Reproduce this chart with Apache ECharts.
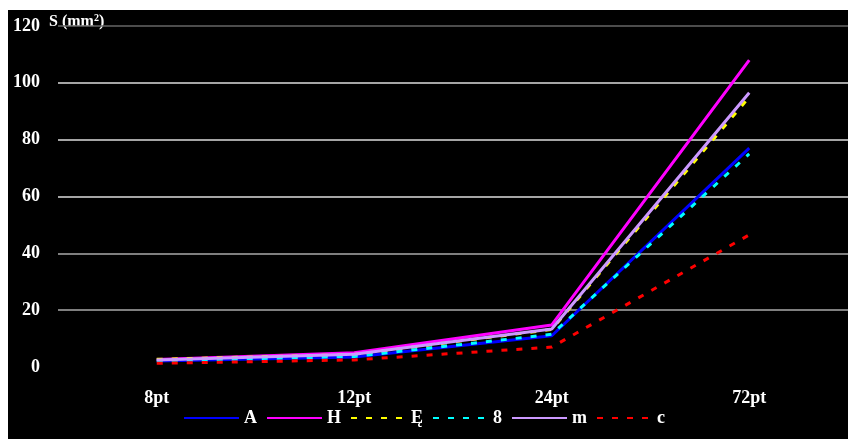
<!DOCTYPE html>
<html><head><meta charset="utf-8">
<script src="https://cdn.jsdelivr.net/npm/echarts@6/dist/echarts.min.js"></script>
<style>
html,body{margin:0;padding:0;background:#fff;width:848px;height:439px;overflow:hidden}
#c{position:absolute;left:8px;top:10px;width:840px;height:429px}
</style></head>
<body><div id="c"></div>
<script>
const categories = ['8pt', '12pt', '24pt', '72pt'];
const seriesNames = ['A', 'H', 'Ę', '8', 'm', 'c'];
const valA = [2.1, 3.5, 11, 77];
const valH = [2.6, 5, 14.8, 108];
const valE = [2.7, 4.4, 13.2, 95];
const val8 = [2.2, 3.7, 11.5, 75];
const valM = [2.5, 4.5, 13.4, 96.5];
const valC = [1.3, 2.5, 7, 46.5];
const yTicks = [0, 20, 40, 60, 80, 100, 120];

const colors = ['#0000ff', '#ff00ff', '#ffff00', '#00ffff', '#cc99ff', '#ff0000'];
const lineTypes = ['solid', 'solid', [6, 9], [6, 9], 'solid', [6, 9]];
const allVals = [valA, valH, valE, val8, valM, valC];

const font = 'Liberation Serif';
const chart = echarts.init(document.getElementById('c'));
chart.setOption({
  backgroundColor: '#000',
  animation: false,
  grid: {left: 50, right: 0, top: 16, bottom: 72},
  legend: {
    orient: 'horizontal',
    left: 170, top: 394,
    itemWidth: 55, itemHeight: 14, itemGap: 9,
    itemStyle: {opacity: 0},
    textStyle: {color: '#fff', fontFamily: font, fontWeight: 'bold', fontSize: 18},
    data: seriesNames
  },
  xAxis: {
    type: 'category', data: categories, boundaryGap: true,
    axisLine: {show: false}, axisTick: {show: false},
    axisLabel: {color: '#fff', fontFamily: font, fontWeight: 'bold', fontSize: 18, margin: 22}
  },
  yAxis: {
    type: 'value', min: yTicks[0], max: yTicks[yTicks.length - 1], interval: 20,
    axisLine: {show: false}, axisTick: {show: false},
    axisLabel: {color: '#fff', fontFamily: font, fontWeight: 'bold', fontSize: 18, margin: 18},
    splitLine: {lineStyle: {color: ['#000', '#aaaaaa', '#aaaaaa', '#dddddd', '#dddddd', '#dddddd', '#666666'], width: 1.5}}
  },
  graphic: [{
    type: 'text', left: 41, top: 3,
    style: {
      text: '{a|S (mm}{s|2}{a|)}',
      rich: {
        a: {fill: '#fff', font: 'bold 16px "Liberation Serif"'},
        s: {fill: '#fff', font: 'bold 10px "Liberation Serif"', verticalAlign: 'top', padding: [0, 0, 7, 0]}
      }
    }
  }],
  series: seriesNames.map((n, i) => ({
    name: n, type: 'line', data: allVals[i],
    symbol: 'none', showSymbol: false,
    itemStyle: {color: colors[i]},
    lineStyle: {color: colors[i], width: 3, type: lineTypes[i]}
  }))
});
</script></body></html>
